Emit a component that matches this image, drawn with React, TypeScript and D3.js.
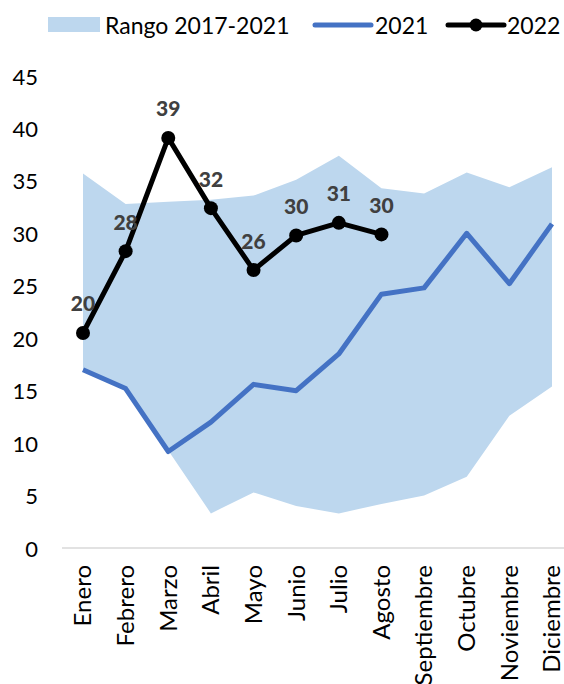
import React from "react";
import * as d3 from "d3";

const months = ["Enero","Febrero","Marzo","Abril","Mayo","Junio","Julio","Agosto","Septiembre","Octubre","Noviembre","Diciembre"];
const rangeMax = [35.7, 32.8, 33.0, 33.2, 33.6, 35.1, 37.4, 34.3, 33.8, 35.8, 34.4, 36.3];
const rangeMin = [17.0, 15.2, 9.3, 3.3, 5.3, 4.0, 3.3, 4.2, 5.0, 6.8, 12.6, 15.4];
const s2021 = [17.0, 15.2, 9.2, 12.0, 15.6, 15.0, 18.5, 24.2, 24.8, 30.0, 25.2, 30.9];
const s2022 = [20.5, 28.3, 39.1, 32.4, 26.5, 29.8, 31.0, 29.9];
const labels2022 = ["20","28","39","32","26","30","31","30"];
const yTicks = [0, 5, 10, 15, 20, 25, 30, 35, 40, 45];

const FONT = "Lato, 'Open Sans', sans-serif";

export default function App() {
  const W = 564, H = 684;
  const x = d3.scalePoint<string>().domain(months).range([83, 552]);
  const y = d3.scaleLinear().domain([0, 45]).range([548, 76]);

  const area = d3.area<number>()
    .x((_, i) => x(months[i]) as number)
    .y0((_, i) => y(rangeMin[i]))
    .y1((d) => y(d));
  const line = d3.line<number>()
    .x((_, i) => x(months[i]) as number)
    .y((d) => y(d));

  return (
    <svg width={W} height={H} style={{ position: "absolute", left: 0, top: 0 }} fontFamily={FONT}>
      <rect width={W} height={H} fill="#fff" />
      {/* legend */}
      <g>
        <rect x={48} y={17} width={52} height={15} fill="#BDD7EE" />
        <text x={105} y={25} fontSize={23} dominantBaseline="central" fill="#000">Rango 2017-2021</text>
        <line x1={315} x2={371} y1={25} y2={25} stroke="#4472C4" strokeWidth={5} strokeLinecap="round" />
        <text x={375} y={25} fontSize={23} dominantBaseline="central" fill="#000">2021</text>
        <line x1={448} x2={504} y1={25} y2={25} stroke="#000" strokeWidth={5} strokeLinecap="round" />
        <circle cx={476} cy={25} r={6.5} fill="#000" />
        <text x={507} y={25} fontSize={23} dominantBaseline="central" fill="#000">2022</text>
      </g>
      {/* band */}
      <path d={area(rangeMax) || ""} fill="#BDD7EE" />
      {/* axis line */}
      <line x1={62} x2={564} y1={y(0)} y2={y(0)} stroke="#D9D9D9" strokeWidth={1.5} />
      {/* y ticks */}
      {yTicks.map((t) => (
        <text key={t} x={38} y={y(t)} fontSize={22} textAnchor="end" dominantBaseline="central" fill="#000">{t}</text>
      ))}
      {/* x labels */}
      {months.map((m) => (
        <text key={m} transform={`translate(${x(m)},565) rotate(-90)`} fontSize={24} textAnchor="end" dy="0.35em" fill="#000">{m}</text>
      ))}
      {/* 2021 */}
      <path d={line(s2021) || ""} fill="none" stroke="#4472C4" strokeWidth={5} strokeLinejoin="round" />
      {/* 2022 */}
      <path d={line(s2022) || ""} fill="none" stroke="#000" strokeWidth={5} strokeLinejoin="round" />
      {s2022.map((v, i) => (
        <circle key={i} cx={x(months[i])} cy={y(v)} r={7} fill="#000" />
      ))}
      {s2022.map((v, i) => (
        <text key={i} x={x(months[i])} y={y(v) - 30} fontSize={21} fontWeight="900" textAnchor="middle" dominantBaseline="central" fill="#404040">{labels2022[i]}</text>
      ))}
    </svg>
  );
}
